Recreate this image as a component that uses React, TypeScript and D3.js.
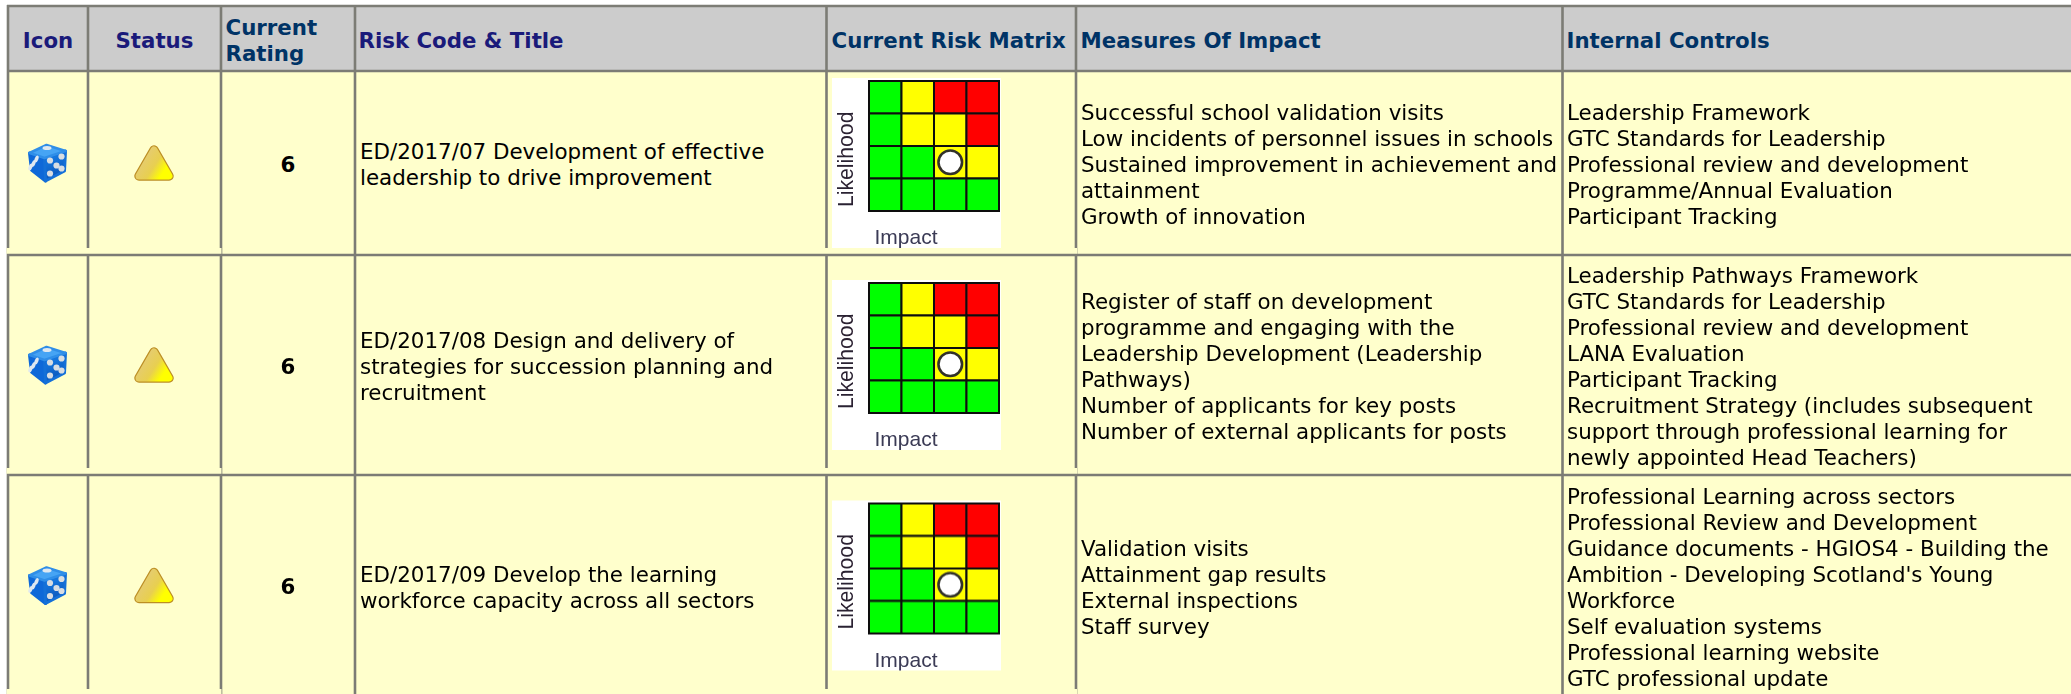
import React from "react"
import * as d3 from "d3"

const columns = ["Icon", "Status", "Current Rating", "Risk Code & Title", "Current Risk Matrix", "Measures Of Impact", "Internal Controls"]
const ratings = [6, 6, 6]
const titles = [
  ["ED/2017/07 Development of effective", "leadership to drive improvement"],
  ["ED/2017/08 Design and delivery of", "strategies for succession planning and", "recruitment"],
  ["ED/2017/09 Develop the learning", "workforce capacity across all sectors"]
]
const measures = [
  ["Successful school validation visits", "Low incidents of personnel issues in schools", "Sustained improvement in achievement and", "attainment", "Growth of innovation"],
  ["Register of staff on development", "programme and engaging with the", "Leadership Development (Leadership", "Pathways)", "Number of applicants for key posts", "Number of external applicants for posts"],
  ["Validation visits", "Attainment gap results", "External inspections", "Staff survey"]
]
const controls = [
  ["Leadership Framework", "GTC Standards for Leadership", "Professional review and development", "Programme/Annual Evaluation", "Participant Tracking"],
  ["Leadership Pathways Framework", "GTC Standards for Leadership", "Professional review and development", "LANA Evaluation", "Participant Tracking", "Recruitment Strategy (includes subsequent", "support through professional learning for", "newly appointed Head Teachers)"],
  ["Professional Learning across sectors", "Professional Review and Development", "Guidance documents - HGIOS4 - Building the", "Ambition - Developing Scotland's Young", "Workforce", "Self evaluation systems", "Professional learning website", "GTC professional update"]
]

// risk matrix, top row first
const matrixColors = [
  ["#00ff00", "#ffff00", "#ff0000", "#ff0000"],
  ["#00ff00", "#ffff00", "#ffff00", "#ff0000"],
  ["#00ff00", "#00ff00", "#ffff00", "#ffff00"],
  ["#00ff00", "#00ff00", "#00ff00", "#00ff00"]
]
const currentCell = { row: 2, col: 2 }

// table layout
const columnEdges = [8, 88, 221, 355, 826.5, 1076, 1562.5, 2071]
const rowEdges = [6, 71, 255, 475, 696]
const headerX = [0, 0, 225.5, 358.5, 831.5, 1080.5, 1566.5]
const lineColor = "#7c7c75"
const font = "'DejaVu Sans', Verdana, sans-serif"
const imageFont = "'Liberation Sans', Arial, sans-serif"
const headerSize = 21.3
const bodySize = 21.42
const lineHeight = 26

function TextBlock({ x, cy, lines }: { x: number; cy: number; lines: string[] }) {
  const top = cy - ((lines.length - 1) * lineHeight) / 2
  return (
    <text x={x} fontFamily={font} fontSize={bodySize} fill="#000">
      {lines.map((l, i) => (
        <tspan key={i} x={x} y={top + i * lineHeight + 9}>{l}</tspan>
      ))}
    </text>
  )
}

function Matrix({ x, y, id }: { x: number; y: number; id: string }) {
  const pos = d3.scaleBand<number>().domain(d3.range(4)).range([0, 130])
  return (
    <g transform={`translate(${x},${y})`}>
      <defs>
        <clipPath id={id}><rect width={169} height={170} /></clipPath>
        <filter id={id + "b"} x="-5%" y="-5%" width="110%" height="110%">
          <feGaussianBlur stdDeviation={0.45} />
        </filter>
      </defs>
      <rect width={169} height={170} fill="#fff" />
      <g clipPath={`url(#${id})`}>
        <g transform="translate(37,3)" filter={`url(#${id}b)`}>
          {matrixColors.map((r, i) =>
            r.map((c, j) => (
              <rect key={j + "-" + i} x={pos(j)} y={pos(i)} width={pos.bandwidth()} height={pos.bandwidth()} fill={c} stroke="#111" strokeWidth={2} />
            ))
          )}
          <circle
            cx={pos(currentCell.col)! + pos.bandwidth() / 2}
            cy={pos(currentCell.row)! + pos.bandwidth() / 2}
            r={11.8}
            fill="#fff"
            stroke="#33332a"
            strokeWidth={2.6}
          />
        </g>
        <g filter={`url(#${id}b)`}>
          <text transform="translate(21,129) rotate(-90)" fontFamily={imageFont} fontSize={21.2} fill="#2a2030">Likelihood</text>
          <text x={42.5} y={166} fontFamily={imageFont} fontSize={21} fill="#3a3a55">Impact</text>
        </g>
      </g>
    </g>
  )
}

const rightDots = [[2.5, -2.5], [14, -6.5], [9, 2.5], [2.5, 10.5], [14, 5.5]]
const leftDots = [[-11, -4], [-14, 0.5], [-17, 4]]

function Die({ cx, cy, id }: { cx: number; cy: number; id: string }) {
  const at = (p: number[][]) => d3.line()(p.map(d => [cx + d[0], cy + d[1]] as [number, number])) + "Z"
  const top = at([[-18, -10], [-1, -18], [18, -12], [-3, -5]])
  const left = at([[-18, -10], [-3, -5], [-2, 18], [-16, 7]])
  const right = at([[18, -12], [-3, -5], [-2, 18], [17, 8]])
  return (
    <g>
      <defs>
        <linearGradient id={id} x1="0" y1="0" x2="0.3" y2="1">
          <stop offset="0" stopColor="#1a86f0" />
          <stop offset="1" stopColor="#0b55b8" />
        </linearGradient>
      </defs>
      <path d={left} fill="#0e68d8" stroke="#0e68d8" strokeLinejoin="round" strokeWidth={3} />
      <path d={right} fill={`url(#${id})`} stroke="#1470d8" strokeLinejoin="round" strokeWidth={3} />
      <path d={top} fill="#46a4f4" stroke="#2f8ee8" strokeLinejoin="round" strokeWidth={2.5} />
      <ellipse cx={cx - 0.5} cy={cy - 15} rx={4.5} ry={2} fill="#dfe8f0" />
      {leftDots.map((d, i) => (
        <ellipse key={i} cx={cx + d[0]} cy={cy + d[1]} rx={1.8} ry={3.6} transform={`rotate(22 ${cx + d[0]} ${cy + d[1]})`} fill="#dfe8f0" />
      ))}
      {rightDots.map((d, i) => (
        <circle key={i} cx={cx + d[0]} cy={cy + d[1]} r={3.1} fill="#d8dde2" />
      ))}
    </g>
  )
}

function Triangle({ cx, cy, id }: { cx: number; cy: number; id: string }) {
  const d = d3.line()([[cx, cy - 13], [cx + 15, cy + 13], [cx - 15, cy + 13]]) + "Z"
  return (
    <g>
      <defs>
        <linearGradient id={id} gradientUnits="userSpaceOnUse" x1={cx - 20} y1={cy - 14} x2={cx + 20} y2={cy + 12}>
          <stop offset="0" stopColor="#e3c98e" />
          <stop offset="0.55" stopColor="#e8cf50" />
          <stop offset="0.78" stopColor="#ffff00" />
        </linearGradient>
      </defs>
      <path d={d} fill="#bc8e24" stroke="#bc8e24" strokeWidth={9.5} strokeLinejoin="round" />
      <path d={d} fill={`url(#${id})`} stroke={`url(#${id})`} strokeWidth={7} strokeLinejoin="round" />
    </g>
  )
}

export default function App() {
  const rows = d3.range(3)
  const rowMid = (i: number) => (rowEdges[i + 1] + rowEdges[i + 2]) / 2
  return (
    <svg width={2071} height={694} style={{ position: "absolute", left: 0, top: 0 }}>
      <rect width={2071} height={694} fill="#fff" />
      <rect x={8} y={6} width={2063} height={65} fill="#cccccc" />
      <rect x={8} y={71} width={2063} height={623} fill="#ffffcc" />
      {columnEdges.slice(0, 7).map(x => (
        <line key={x} x1={x} x2={x} y1={5} y2={694} stroke={lineColor} strokeWidth={2.6} />
      ))}
      {/* the screenshot loses the column rules just above each row rule */}
      {rowEdges.slice(2, 5).map(y => (
        <g key={y} fill="#ffffcc">
          <rect x={6.5} y={y - 7} width={215} height={6} />
          <rect x={825} y={y - 7} width={252} height={6} />
        </g>
      ))}
      {rowEdges.slice(0, 4).map(y => (
        <line key={y} x1={7} x2={2071} y1={y} y2={y} stroke={lineColor} strokeWidth={2.6} />
      ))}
      {columns.map((c, i) => {
        const fill = i < 2 || i === 3 ? "#1a1a7a" : "#003366"
        const common = { fontFamily: font, fontSize: headerSize, fontWeight: 700, fill }
        if (i === 2) {
          const [a, b] = c.split(" ")
          return (
            <text key={c} {...common}>
              <tspan x={headerX[i]} y={35}>{a}</tspan>
              <tspan x={headerX[i]} y={61}>{b}</tspan>
            </text>
          )
        }
        if (i < 2)
          return <text key={c} {...common} x={(columnEdges[i] + columnEdges[i + 1]) / 2} y={48} textAnchor="middle">{c}</text>
        return <text key={c} {...common} x={headerX[i]} y={48}>{c}</text>
      })}
      {rows.map(i => {
        const cy = rowMid(i)
        return (
          <g key={i}>
            <Die cx={47.5} cy={cy} id={"die" + i} />
            <Triangle cx={154} cy={cy} id={"tri" + i} />
            <text x={288} y={cy + 8.7} textAnchor="middle" fontFamily={font} fontSize={headerSize} fontWeight={700}>{ratings[i]}</text>
            <TextBlock x={360} cy={cy} lines={titles[i]} />
            <Matrix x={832} y={cy - 85} id={"mx" + i} />
            <TextBlock x={1081} cy={cy} lines={measures[i]} />
            <TextBlock x={1567} cy={cy} lines={controls[i]} />
          </g>
        )
      })}
    </svg>
  )
}
